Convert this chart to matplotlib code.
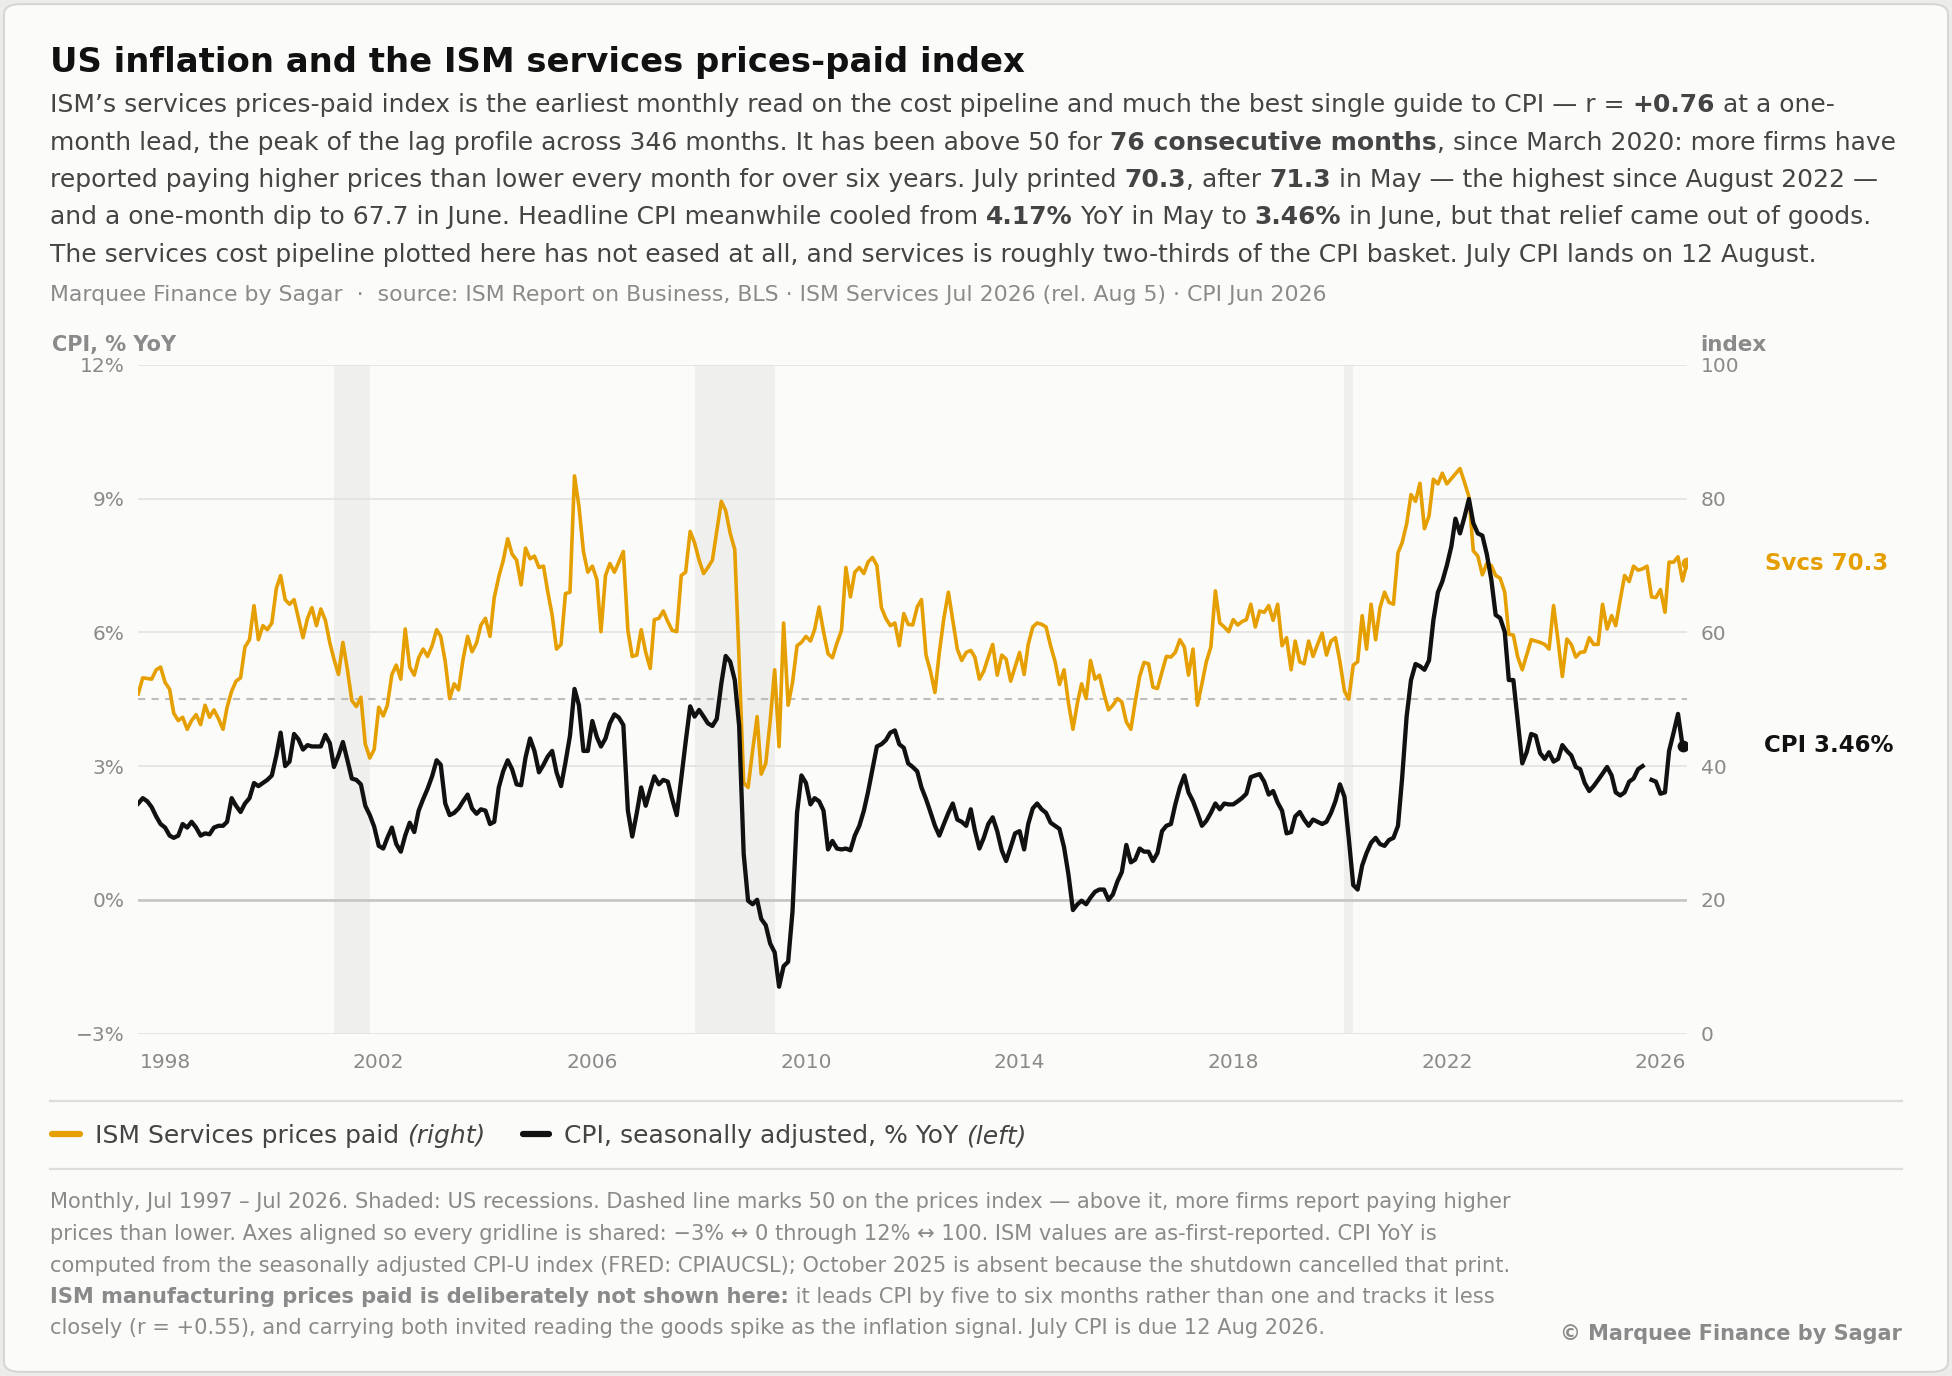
import numpy as np
import pandas as pd
import matplotlib
matplotlib.use("Agg")
import matplotlib.pyplot as plt
from matplotlib.patches import FancyBboxPatch
from matplotlib.lines import Line2D

# ---------------------------------------------------------------------------
# Data (monthly, first value = Jul 1997)
# ---------------------------------------------------------------------------
first_month = "1997-07-01"

# ISM Services prices paid index, Jul 1997 - Jul 2026 (one row per calendar year)
ism_values = [
    50.8, 53.2, 53.1, 53.0, 54.4, 54.8,                                  # 1997 (Jul-Dec)
    52.5, 51.5, 47.9, 46.8, 47.3, 45.5, 46.8, 47.7, 46.2, 49.1, 47.3, 48.4,  # 1998
    47.1, 45.5, 48.8, 51.2, 52.7, 53.2, 57.8, 58.9, 64.0, 58.9, 61.0, 60.4,  # 1999
    61.4, 66.6, 68.5, 64.9, 64.2, 64.9, 62.1, 59.2, 62.1, 63.7, 61.0, 63.5,  # 2000
    61.8, 58.4, 56.0, 53.7, 58.5, 54.4, 49.8, 48.9, 50.3, 43.3, 41.2, 42.5,  # 2001
    48.8, 47.5, 49.1, 53.7, 55.1, 53.0, 60.5, 54.8, 53.6, 56.2, 57.5, 56.4,  # 2002
    58.0, 60.4, 59.4, 55.6, 50.1, 52.3, 51.4, 56.0, 59.4, 57.1, 58.4, 61.1,  # 2003
    62.1, 59.4, 65.2, 68.3, 70.7, 74.0, 71.7, 70.8, 67.1, 72.6, 71.0, 71.4,  # 2004
    69.7, 69.9, 66.2, 62.6, 57.5, 58.2, 65.8, 66.0, 83.4, 78.9, 72.1, 69.0,  # 2005
    69.9, 67.9, 60.1, 68.5, 70.3, 69.0, 70.5, 72.1, 60.3, 56.4, 56.6, 60.4,  # 2006
    57.0, 54.6, 61.9, 62.1, 63.2, 61.6, 60.3, 60.1, 68.5, 69.0, 75.1, 73.4,  # 2007
    70.8, 68.8, 69.7, 70.8, 75.1, 79.6, 78.2, 74.8, 72.4, 55.6, 37.5, 36.8,  # 2008
    42.3, 47.4, 38.8, 40.4, 46.7, 54.4, 42.9, 61.4, 49.1, 52.5, 58.0, 58.5,  # 2009
    59.4, 58.7, 60.4, 63.8, 60.1, 56.8, 56.2, 58.4, 60.3, 69.7, 65.3, 69.0,  # 2010
    69.7, 68.8, 70.5, 71.2, 70.0, 63.7, 62.1, 61.0, 61.4, 58.0, 62.8, 61.2,  # 2011
    61.1, 63.8, 64.9, 56.6, 54.2, 51.0, 57.0, 62.1, 66.0, 61.8, 57.5, 55.8,  # 2012
    57.0, 57.3, 56.3, 53.0, 54.2, 56.3, 58.2, 53.6, 56.6, 56.0, 52.7, 54.8,  # 2013
    57.0, 53.7, 58.2, 60.8, 61.4, 61.2, 60.8, 58.0, 55.6, 52.2, 54.4, 49.5,  # 2014
    45.5, 49.5, 52.3, 50.1, 55.8, 53.0, 53.6, 50.8, 48.4, 49.1, 50.1, 49.6,  # 2015
    46.6, 45.5, 49.5, 53.4, 55.5, 55.3, 51.8, 51.6, 54.1, 56.4, 56.3, 57.0,  # 2016
    58.9, 57.8, 53.6, 57.5, 49.1, 52.3, 55.6, 57.8, 66.2, 61.4, 60.8, 60.1,  # 2017
    61.9, 61.1, 61.6, 61.9, 64.2, 60.8, 63.2, 63.0, 64.0, 61.8, 64.2, 58.0,  # 2018
    59.2, 54.4, 58.7, 55.6, 55.3, 58.7, 56.4, 58.2, 59.9, 56.6, 58.7, 59.2,  # 2019
    55.6, 51.2, 50.0, 55.1, 55.6, 62.5, 57.5, 64.2, 58.9, 63.7, 66.0, 64.5,  # 2020
    64.2, 71.9, 73.4, 76.2, 80.6, 79.6, 82.3, 75.5, 77.4, 82.9, 82.2, 83.8,  # 2021
    82.2, 83.0, 83.7, 84.5, 82.5, 80.3, 72.2, 71.4, 68.6, 70.3, 70.0, 68.5,  # 2022
    68.1, 66.0, 59.7, 59.6, 56.3, 54.4, 56.6, 58.9, 58.7, 58.5, 58.2, 57.5,  # 2023
    64.0, 58.7, 53.4, 59.0, 58.2, 56.3, 57.0, 57.1, 59.2, 58.2, 58.2, 64.2,  # 2024
    60.5, 62.5, 61.0, 64.9, 68.5, 67.6, 69.9, 69.3, 69.5, 69.9, 65.3, 65.2,  # 2025
    66.4, 63.0, 70.5, 70.5, 71.3, 67.7, 70.3,                            # 2026 (Jan-Jul)
]

# CPI, seasonally adjusted, % YoY, Jul 1997 - Jun 2026 (Oct 2025 never printed)
cpi_values = [
    2.16, 2.28, 2.21, 2.08, 1.87, 1.70,                                  # 1997 (Jul-Dec)
    1.62, 1.44, 1.39, 1.44, 1.70, 1.62, 1.75, 1.62, 1.44, 1.49, 1.47, 1.62,  # 1998
    1.66, 1.66, 1.75, 2.28, 2.11, 1.97, 2.16, 2.28, 2.62, 2.55, 2.62, 2.69,  # 1999
    2.79, 3.24, 3.75, 3.00, 3.10, 3.72, 3.60, 3.37, 3.47, 3.44, 3.44, 3.44,  # 2000
    3.70, 3.51, 2.98, 3.24, 3.54, 3.13, 2.72, 2.69, 2.59, 2.11, 1.90, 1.64,  # 2001
    1.21, 1.15, 1.39, 1.62, 1.25, 1.08, 1.44, 1.73, 1.52, 2.00, 2.26, 2.49,  # 2002
    2.77, 3.13, 3.03, 2.16, 1.90, 1.95, 2.05, 2.21, 2.36, 2.05, 1.93, 2.03,  # 2003
    2.00, 1.70, 1.75, 2.52, 2.88, 3.13, 2.93, 2.59, 2.57, 3.19, 3.62, 3.34,  # 2004
    2.86, 3.03, 3.21, 3.34, 2.86, 2.55, 3.08, 3.68, 4.73, 4.37, 3.34, 3.34,  # 2005
    4.01, 3.65, 3.44, 3.62, 3.96, 4.16, 4.09, 3.92, 2.00, 1.42, 1.95, 2.52,  # 2006
    2.11, 2.47, 2.77, 2.59, 2.69, 2.65, 2.26, 1.90, 2.72, 3.54, 4.34, 4.11,  # 2007
    4.26, 4.11, 3.96, 3.90, 4.06, 4.85, 5.47, 5.34, 4.93, 3.90, 1.03, -0.02,  # 2008
    -0.10, 0.00, -0.43, -0.57, -0.98, -1.18, -1.95, -1.49, -1.39, -0.26, 1.95, 2.79,  # 2009
    2.62, 2.14, 2.28, 2.21, 2.00, 1.13, 1.32, 1.15, 1.13, 1.15, 1.11, 1.44,  # 2010
    1.66, 2.00, 2.41, 2.93, 3.44, 3.49, 3.58, 3.75, 3.80, 3.49, 3.41, 3.06,  # 2011
    2.98, 2.88, 2.52, 2.26, 1.97, 1.66, 1.44, 1.70, 1.95, 2.16, 1.80, 1.75,  # 2012
    1.66, 2.03, 1.56, 1.15, 1.39, 1.70, 1.85, 1.54, 1.11, 0.87, 1.18, 1.49,  # 2013
    1.54, 1.13, 1.70, 2.05, 2.16, 2.03, 1.95, 1.73, 1.66, 1.59, 1.18, 0.57,  # 2014
    -0.23, -0.10, -0.02, -0.10, 0.05, 0.18, 0.23, 0.23, 0.00, 0.12, 0.41, 0.62,  # 2015
    1.23, 0.84, 0.90, 1.15, 1.08, 1.08, 0.87, 1.05, 1.54, 1.66, 1.70, 2.14,  # 2016
    2.52, 2.79, 2.41, 2.21, 1.95, 1.66, 1.77, 1.95, 2.16, 2.03, 2.16, 2.14,  # 2017
    2.14, 2.21, 2.28, 2.38, 2.75, 2.79, 2.82, 2.65, 2.36, 2.44, 2.18, 2.00,  # 2018
    1.49, 1.52, 1.87, 1.97, 1.80, 1.66, 1.80, 1.75, 1.70, 1.75, 1.95, 2.21,  # 2019
    2.59, 2.31, 1.39, 0.33, 0.23, 0.77, 1.05, 1.28, 1.39, 1.25, 1.21, 1.34,  # 2020
    1.39, 1.66, 2.72, 4.11, 4.93, 5.29, 5.24, 5.16, 5.37, 6.27, 6.90, 7.14,  # 2021
    7.50, 7.93, 8.55, 8.22, 8.58, 8.99, 8.45, 8.22, 8.17, 7.76, 7.19, 6.39,  # 2022
    6.32, 6.01, 4.93, 4.93, 4.01, 3.06, 3.31, 3.72, 3.68, 3.29, 3.16, 3.31,  # 2023
    3.10, 3.16, 3.47, 3.34, 3.24, 2.98, 2.93, 2.62, 2.44, 2.55, 2.69, 2.83,  # 2024
    2.98, 2.79, 2.41, 2.34, 2.41, 2.65, 2.72, 2.93, 3.00, np.nan, 2.69, 2.65,  # 2025
    2.38, 2.41, 3.34, 3.75, 4.17, 3.46,                                  # 2026 (Jan-Jun)
]

# US recessions (NBER), start and end month
recession_starts = ["2001-03-01", "2007-12-01", "2020-02-01"]
recession_ends = ["2001-11-01", "2009-06-01", "2020-04-01"]

tick_years = [1998, 2002, 2006, 2010, 2014, 2018, 2022, 2026]
cpi_ticks = [-3, 0, 3, 6, 9, 12]
cpi_tick_labels = ["\u22123%", "0%", "3%", "6%", "9%", "12%"]
ism_ticks = [0, 20, 40, 60, 80, 100]

# ---------------------------------------------------------------------------
# Colours and the figure
# ---------------------------------------------------------------------------
ORANGE = "#E69F00"
BLACK = "#111111"
GREY = "#8a8a8a"
BODY = "#444444"
GRID = "#e2e2e0"

ism_dates = pd.date_range(first_month, periods=len(ism_values), freq="MS")
cpi_dates = ism_dates[:len(cpi_values)]

fig = plt.figure(figsize=(19.52, 13.76), dpi=100, facecolor="#ececea")
card = FancyBboxPatch((0.002, 0.003), 0.996, 0.994, transform=fig.transFigure,
                      boxstyle="round,pad=0,rounding_size=0.008",
                      facecolor="#fbfbf9", edgecolor="#d6d6d4", linewidth=1.5,
                      zorder=-10)
fig.patches.append(card)
renderer = fig.canvas.get_renderer()


def text_width(s, **kw):
    # width in figure fraction, spaces included (measured between two bars)
    t = fig.text(0, 0, "|" + s + "|", **kw)
    w1 = t.get_window_extent(renderer).width
    t.set_text("||")
    w0 = t.get_window_extent(renderer).width
    t.remove()
    return (w1 - w0) / fig.bbox.width


def rich_line(x, y, parts, size, color):
    # parts: list of (text, weight, style)
    for s, weight, style in parts:
        kw = dict(fontsize=size, fontweight=weight, fontstyle=style)
        fig.text(x, y, s, color=color, va="baseline", ha="left", **kw)
        x = x + text_width(s, **kw)


N = ("normal", "normal")
B = ("bold", "normal")
I = ("normal", "italic")

# ---------------------------------------------------------------------------
# Header
# ---------------------------------------------------------------------------
fig.text(0.0255, 0.9476, "US inflation and the ISM services prices-paid index",
         fontsize=24.4, fontweight="bold", color=BLACK, va="baseline")

subtitle = [
    [("ISM\u2019s services prices-paid index is the earliest monthly read on the cost pipeline "
      "and much the best single guide to CPI \u2014 r = ", *N), ("+0.76", *B), (" at a one-", *N)],
    [("month lead, the peak of the lag profile across 346 months. It has been above 50 for ", *N),
     ("76 consecutive months", *B), (", since March 2020: more firms have", *N)],
    [("reported paying higher prices than lower every month for over six years. July printed ", *N),
     ("70.3", *B), (", after ", *N), ("71.3", *B),
     (" in May \u2014 the highest since August 2022 \u2014", *N)],
    [("and a one-month dip to 67.7 in June. Headline CPI meanwhile cooled from ", *N),
     ("4.17%", *B), (" YoY in May to ", *N), ("3.46%", *B),
     (" in June, but that relief came out of goods.", *N)],
    [("The services cost pipeline plotted here has not eased at all, and services is roughly "
      "two-thirds of the CPI basket. July CPI lands on 12 August.", *N)],
]
sub_y = [0.9183, 0.8911, 0.8640, 0.8369, 0.8097]
for parts, y in zip(subtitle, sub_y):
    rich_line(0.0255, y, parts, 18, BODY)

fig.text(0.0255, 0.7815,
         "Marquee Finance by Sagar  \u00b7  source: ISM Report on Business, BLS \u00b7 "
         "ISM Services Jul 2026 (rel. Aug 5) \u00b7 CPI Jun 2026",
         fontsize=15.8, color=GREY, va="baseline")

# ---------------------------------------------------------------------------
# Chart: ISM on the back axis (right scale), CPI on top (left scale)
# ---------------------------------------------------------------------------
ax2 = fig.add_axes([0.0708, 0.2489, 0.7934, 0.4859])
ax = ax2.twinx()
ax2.yaxis.tick_right()
ax.yaxis.tick_left()
ax2.set_zorder(1)
ax.set_zorder(2)
ax2.patch.set_visible(False)
ax.patch.set_visible(False)

for s0, s1 in zip(recession_starts, recession_ends):
    ax2.axvspan(pd.Timestamp(s0), pd.Timestamp(s1), color="#efefee", lw=0, zorder=0)

for t in ism_ticks:
    ax2.axhline(t, color=GRID, lw=1.2, zorder=1)
ax2.axhline(20, color="#c4c4c2", lw=1.8, zorder=1)
ax2.axhline(50, color="#bdbdbb", lw=1.5, ls=(0, (3.5, 3)), zorder=1)

ax2.plot(ism_dates, ism_values, color=ORANGE, lw=2.6, zorder=3)
ax2.plot(ism_dates[-1], ism_values[-1], "o", color=ORANGE, ms=7.5, zorder=4)
ax.plot(cpi_dates, cpi_values, color=BLACK, lw=3.1, zorder=3)
ax.plot(cpi_dates[-1], cpi_values[-1], "o", color=BLACK, ms=7.5, zorder=4)

ax2.set_xlim(ism_dates[0], ism_dates[-1])
ax2.set_ylim(0, 100)
ax.set_ylim(-3, 12)
ax2.set_yticks(ism_ticks)
ax.set_yticks(cpi_ticks)
ax.set_yticklabels(cpi_tick_labels)
ax2.set_xticks([pd.Timestamp(f"{y}-01-01") for y in tick_years])
ax2.set_xticklabels([str(y) for y in tick_years])

for a in (ax, ax2):
    for sp in a.spines.values():
        sp.set_visible(False)
    a.tick_params(length=0, labelsize=14.5, labelcolor=GREY)
ax.tick_params(axis="y", pad=10)
ax2.tick_params(axis="y", pad=10)
ax2.tick_params(axis="x", pad=14)

ax2.annotate(f"Svcs {ism_values[-1]:.1f}", xy=(ism_dates[-1], ism_values[-1]),
             xytext=(56, 0), textcoords="offset points", va="center", ha="left",
             fontsize=16.5, fontweight="bold", color=ORANGE, annotation_clip=False)
ax.annotate(f"CPI {cpi_values[-1]:.2f}%", xy=(cpi_dates[-1], cpi_values[-1]),
            xytext=(58.5, 0), textcoords="offset points", va="center", ha="left",
            fontsize=16.5, fontweight="bold", color=BLACK, annotation_clip=False)

fig.text(0.0268, 0.7493, "CPI, % YoY", fontsize=15, fontweight="bold", color=GREY, va="center")
fig.text(0.8712, 0.7493, "index", fontsize=15.5, fontweight="bold", color=GREY, va="center")

# ---------------------------------------------------------------------------
# Legend strip and notes
# ---------------------------------------------------------------------------
for y in (0.2, 0.1502):
    fig.add_artist(Line2D([0.0255, 0.9745], [y, y], color="#deded9", lw=1.6))

fig.add_artist(Line2D([0.0268, 0.0410], [0.1756, 0.1756], color=ORANGE, lw=4.5,
                      solid_capstyle="round"))
rich_line(0.0485, 0.1690, [("ISM Services prices paid ", *N), ("(right)", *I)], 18, BODY)
fig.add_artist(Line2D([0.2680, 0.2815], [0.1756, 0.1756], color=BLACK, lw=4.5,
                      solid_capstyle="round"))
rich_line(0.2889, 0.1690, [("CPI, seasonally adjusted, % YoY ", *N), ("(left)", *I)], 18, BODY)

notes = [
    [("Monthly, Jul 1997 \u2013 Jul 2026. Shaded: US recessions. Dashed line marks 50 on the "
      "prices index \u2014 above it, more firms report paying higher", *N)],
    [("prices than lower. Axes aligned so every gridline is shared: \u22123% \u2194 0 through "
      "12% \u2194 100. ISM values are as-first-reported. CPI YoY is", *N)],
    [("computed from the seasonally adjusted CPI-U index (FRED: CPIAUCSL); October 2025 is "
      "absent because the shutdown cancelled that print.", *N)],
    [("ISM manufacturing prices paid is deliberately not shown here:", *B),
     (" it leads CPI by five to six months rather than one and tracks it less", *N)],
    [("closely (r = +0.55), and carrying both invited reading the goods spike as the "
      "inflation signal. July CPI is due 12 Aug 2026.", *N)],
]
note_y = [0.1221, 0.0986, 0.0759, 0.0533, 0.0307]
for parts, y in zip(notes, note_y):
    rich_line(0.0255, y, parts, 15.1, GREY)

fig.text(0.9745, 0.0265, "\u00a9 Marquee Finance by Sagar", fontsize=15,
         fontweight="bold", color=GREY, ha="right", va="baseline")

fig.savefig("out.png", dpi=100, facecolor=fig.get_facecolor())
plt.close(fig)
